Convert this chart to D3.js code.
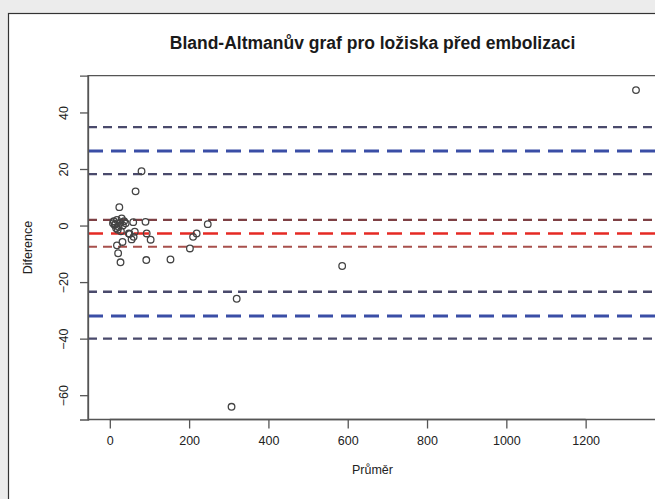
<!DOCTYPE html>
<html>
<head>
<meta charset="utf-8">
<script src="https://cdnjs.cloudflare.com/ajax/libs/d3/7.8.5/d3.min.js"></script>
<style>
body { margin: 0; background: #ececec; }
</style>
</head>
<body>
<div id="chart"></div>
<script>
var WIDTH = 655;
var HEIGHT = 499;

// prumer, diference
var means = [1327, 307, 320, 586, 247, 80, 65, 24,
	10, 14, 18, 22, 26, 30, 33, 20, 28, 36, 16, 40, 12, 8,
	59, 90, 50, 55, 63, 60, 48, 93, 103,
	32, 18, 21, 27, 92, 153, 202, 210, 219];
var diffs = [47.9, -64.1, -25.9, -14.3, 0.5, 19.2, 12.1, 6.5,
	1.5, 0.5, 2, -0.5, 1, 2.5, 0, -1.5, -2, 1.5, -1, 0.8, 0.2, 0.8,
	1.2, 1.3, -3, -4.9, -2.2, -4, -2.8, -2.8, -5,
	-5.8, -7, -9.8, -13, -12.2, -12, -8.1, -4, -2.8];

var meanDiff = -2.8;
var meanCI = [2.0, -7.5];
var limits = [26.4, -32.0];
var limitsCI = [34.8, 18.2, -23.4, -40.0];

var xTicks = [0, 200, 400, 600, 800, 1000, 1200];
var yTicks = [40, 20, 0, -20, -40, -60];

var TITLE = "Bland-Altmanův graf pro ložiska před embolizaci";
var X_LABEL = "Průměr";
var Y_LABEL = "Diference";

var LEFT = 88, RIGHT = 659, TOP = 75.7, BOTTOM = 419.5;
var FONT = "'Liberation Sans', Arial, Helvetica, sans-serif";

var svg = d3.select("#chart").append("svg")
	.attr("width", WIDTH)
	.attr("height", HEIGHT)
	.attr("id", "svg");

// frame
svg.append("rect").attr("x", 0).attr("y", 0).attr("width", WIDTH).attr("height", HEIGHT).attr("fill", "#ececec");
svg.append("rect")
	.attr("x", 8.5).attr("y", 13.5)
	.attr("width", WIDTH).attr("height", HEIGHT)
	.attr("fill", "#fff")
	.attr("stroke", "#333")
	.attr("stroke-width", 1.2);

var x = d3.scaleLinear().domain([-55, 1385]).range([LEFT, RIGHT]);
var y = d3.scaleLinear().domain([-68.6, 53]).range([BOTTOM, TOP]);

svg.append("clipPath").attr("id", "plotclip")
	.append("rect")
	.attr("x", LEFT).attr("y", TOP)
	.attr("width", RIGHT - LEFT).attr("height", BOTTOM - TOP);

var plot = svg.append("g").attr("clip-path", "url(#plotclip)");

// reference lines
var hlines = [];
hlines.push({v: limitsCI[0], color: "#4a4a6c", w: 2.4, dash: "9,6"});
hlines.push({v: limits[0], color: "#3a4ea6", w: 3, dash: "15,8"});
hlines.push({v: limitsCI[1], color: "#4a4a6c", w: 2.4, dash: "9,6"});
hlines.push({v: meanCI[0], color: "#7e4044", w: 2.2, dash: "9,6"});
hlines.push({v: meanDiff, color: "#e52a24", w: 2.6, dash: "15,8"});
hlines.push({v: meanCI[1], color: "#a8504c", w: 2.2, dash: "9,6"});
hlines.push({v: limitsCI[2], color: "#4a4a6c", w: 2.4, dash: "9,6"});
hlines.push({v: limits[1], color: "#3a4ea6", w: 3, dash: "15,8"});
hlines.push({v: limitsCI[3], color: "#4a4a6c", w: 2.4, dash: "9,6"});

plot.selectAll("line.ref")
	.data(hlines)
	.enter()
	.append("line")
	.attr("class", "ref")
	.attr("x1", LEFT)
	.attr("x2", RIGHT)
	.attr("y1", d => y(d.v))
	.attr("y2", d => y(d.v))
	.attr("stroke", d => d.color)
	.attr("stroke-width", d => d.w)
	.attr("stroke-dasharray", d => d.dash);

var points = means.map((m, i) => ({x: m, y: diffs[i]}));

plot.selectAll("circle")
	.data(points)
	.enter()
	.append("circle")
	.attr("cx", d => x(d.x))
	.attr("cy", d => y(d.y))
	.attr("r", 3.3)
	.attr("fill", "none")
	.attr("stroke", "#444")
	.attr("stroke-width", 1.3);

// plot box
svg.append("path")
	.attr("d", "M" + (WIDTH + 5) + "," + TOP + "H" + LEFT + "V" + BOTTOM + "H" + (WIDTH + 5))
	.attr("fill", "none")
	.attr("stroke", "#555")
	.attr("stroke-width", 1.3);

// axes, R style
var xAxis = d3.axisBottom(x).tickValues(xTicks).tickSize(9).tickPadding(8).tickFormat(d3.format("d"));
var gx = svg.append("g").attr("transform", "translate(0," + BOTTOM + ")").call(xAxis);
gx.select(".domain").attr("d", "M" + x(xTicks[0]) + ",0H" + x(xTicks[xTicks.length - 1]));

var yAxis = d3.axisLeft(y).tickValues(yTicks).tickSize(8).tickFormat(d3.format("d"));
var gy = svg.append("g").attr("transform", "translate(" + LEFT + ",0)").call(yAxis);
gy.selectAll(".tick text")
	.attr("transform", "rotate(-90)")
	.attr("x", 0)
	.attr("y", -20)
	.attr("dy", 0)
	.attr("text-anchor", "middle");

svg.selectAll(".domain, .tick line").attr("stroke", "#555").attr("stroke-width", 1.3);
svg.selectAll(".tick text")
	.style("font-family", FONT)
	.style("font-size", "12.5px")
	.attr("fill", "#222");
gx.selectAll(".tick text").attr("dy", "0.71em");

svg.append("text")
	.attr("x", (LEFT + RIGHT) / 2 - 1)
	.attr("y", 49)
	.attr("text-anchor", "middle")
	.style("font-family", FONT)
	.style("font-size", "17.5px")
	.style("font-weight", "bold")
	.attr("fill", "#1a1a1a")
	.text(TITLE);

svg.append("text")
	.attr("x", (LEFT + RIGHT) / 2 - 1)
	.attr("y", 474)
	.attr("text-anchor", "middle")
	.style("font-family", FONT)
	.style("font-size", "12.5px")
	.attr("fill", "#222")
	.text(X_LABEL);

svg.append("text")
	.attr("transform", "translate(32," + ((TOP + BOTTOM) / 2) + ") rotate(-90)")
	.attr("text-anchor", "middle")
	.style("font-family", FONT)
	.style("font-size", "12.5px")
	.attr("fill", "#222")
	.text(Y_LABEL);
</script>
</body>
</html>
